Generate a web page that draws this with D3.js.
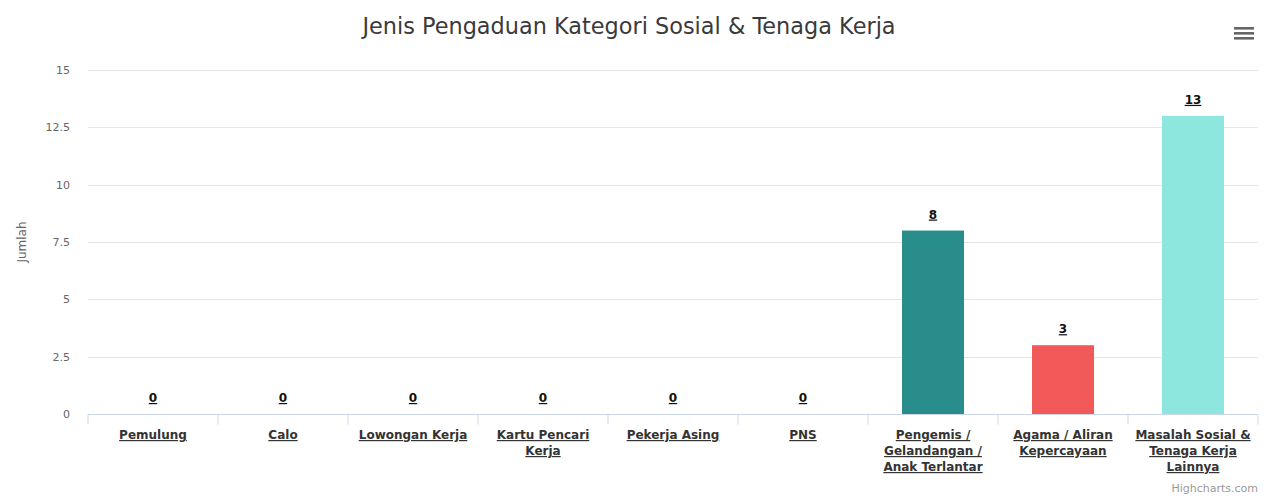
<!DOCTYPE html>
<html>
<head>
<meta charset="utf-8">
<script src="https://cdn.jsdelivr.net/npm/d3@7"></script>
<style>
  html, body { margin: 0; padding: 0; background: #fff; }
  svg { display: block; font-family: "DejaVu Sans", Verdana, sans-serif; }
</style>
</head>
<body>
<svg id="chart" width="1269" height="501"></svg>
<script>
// Complaint counts per category
const categories = [
  "Pemulung", "Calo", "Lowongan Kerja", "Kartu Pencari Kerja", "Pekerja Asing",
  "PNS", "Pengemis / Gelandangan / Anak Terlantar", "Agama / Aliran Kepercayaan",
  "Masalah Sosial & Tenaga Kerja Lainnya"
];
const values = [0, 0, 0, 0, 0, 0, 8, 3, 13];
const barColors = ["#7cb5ec", "#434348", "#90ed7d", "#f7a35c", "#8085e9",
                   "#f15c80", "#288d8b", "#f25959", "#8de7de"];
const yTicks = [0, 2.5, 5, 7.5, 10, 12.5, 15];
const titleText = "Jenis Pengaduan Kategori Sosial & Tenaga Kerja";
const yTitle = "Jumlah";

const svg = d3.select("#chart");
const margin = { left: 88, right: 11, top: 70, bottom: 87 };
const W = 1269, H = 501;
const plotW = W - margin.left - margin.right;
const plotH = H - margin.top - margin.bottom;

const x = d3.scaleBand().domain(categories).range([margin.left, margin.left + plotW]).paddingInner(0).paddingOuter(0);
const y = d3.scaleLinear().domain([0, 15]).range([margin.top + plotH, margin.top]);

// Title
svg.append("text")
  .attr("x", 629).attr("y", 34)
  .attr("text-anchor", "middle")
  .attr("font-size", 22.4).attr("fill", "#3a3a3a")
  .text(titleText);

// Menu icon
const menu = svg.append("g").attr("transform", "translate(1234,27)");
[0, 5, 10].forEach(dy => menu.append("rect").attr("x", 0).attr("y", dy).attr("width", 20).attr("height", 2.6).attr("fill", "#666"));

// Gridlines
svg.append("g").selectAll("line").data(yTicks.filter(d => d > 0)).join("line")
  .attr("x1", margin.left).attr("x2", margin.left + plotW)
  .attr("y1", d => Math.round(y(d)) + 0.5).attr("y2", d => Math.round(y(d)) + 0.5)
  .attr("stroke", "#e6e6e6").attr("stroke-width", 1);

// Y axis labels
const yAxis = d3.axisLeft(y).tickValues(yTicks).tickSize(0).tickPadding(0)
  .tickFormat(d => String(d));
const yg = svg.append("g").attr("transform", `translate(${margin.left - 18},0)`).call(yAxis);
yg.select(".domain").remove();
yg.selectAll("text").attr("font-size", 11).attr("fill", "#666").attr("font-family", "DejaVu Sans, sans-serif").attr("dy", "0.32em");

// Y axis title
svg.append("text")
  .attr("transform", `translate(26,${margin.top + plotH / 2}) rotate(-90)`)
  .attr("text-anchor", "middle")
  .attr("font-size", 12).attr("fill", "#666")
  .text(yTitle);

// Bars
const barW = 62;
svg.append("g").selectAll("rect").data(values).join("rect")
  .attr("x", (d, i) => x(categories[i]) + x.bandwidth() / 2 - barW / 2)
  .attr("width", barW)
  .attr("y", d => y(d))
  .attr("height", d => y(0) - y(d))
  .attr("fill", (d, i) => barColors[i]);

// X axis line and ticks
const xAxis = d3.axisBottom(x).tickSize(10).tickFormat("");
const xg = svg.append("g").attr("transform", `translate(0,${Math.round(y(0)) + 0.5})`).call(xAxis);
xg.select(".domain").attr("stroke", "#ccd6eb").attr("d", `M${margin.left},0H${margin.left + plotW}`);
xg.selectAll(".tick line").attr("stroke", "#ccd6eb")
  .attr("transform", `translate(${-x.bandwidth() / 2},0)`);
xg.append("line").attr("x1", margin.left + plotW).attr("x2", margin.left + plotW)
  .attr("y1", 0).attr("y2", 10).attr("stroke", "#ccd6eb");

// Category labels (wrapped, underlined)
function wrapWords(text, maxW, size) {
  const ctx = document.createElement("canvas").getContext("2d");
  ctx.font = `bold ${size}px "DejaVu Sans"`;
  const words = text.split(" ");
  const lines = [];
  let cur = "";
  words.forEach(w => {
    const t = cur ? cur + " " + w : w;
    if (ctx.measureText(t).width > maxW && cur) { lines.push(cur); cur = w; }
    else cur = t;
  });
  if (cur) lines.push(cur);
  return lines;
}
const labG = svg.append("g");
categories.forEach((c, i) => {
  const cx = x(c) + x.bandwidth() / 2;
  const lines = wrapWords(c, 122, 12);
  const t = labG.append("text")
    .attr("x", cx).attr("y", 439)
    .attr("text-anchor", "middle")
    .attr("font-size", 12).attr("font-weight", "bold")
    .attr("fill", "#333").attr("text-decoration", "underline");
  lines.forEach((l, k) => t.append("tspan").attr("x", cx).attr("dy", k === 0 ? 0 : 16).text(l));
});

// Data labels
svg.append("g").selectAll("text").data(values).join("text")
  .attr("x", (d, i) => x(categories[i]) + x.bandwidth() / 2)
  .attr("y", d => y(d) - 12)
  .attr("text-anchor", "middle")
  .attr("font-size", 12).attr("font-weight", "bold")
  .attr("fill", "#111").attr("text-decoration", "underline")
  .text(d => d);

// Credits
svg.append("text")
  .attr("x", 1258).attr("y", 492)
  .attr("text-anchor", "end")
  .attr("font-size", 11).attr("fill", "#999")
  .text("Highcharts.com");
</script>
</body>
</html>
